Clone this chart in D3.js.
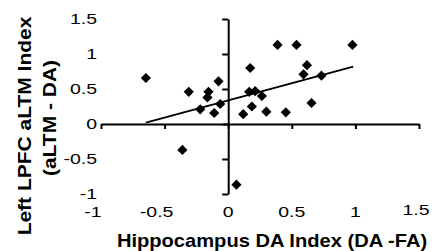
<!DOCTYPE html>
<html>
<head>
<meta charset="utf-8">
<script src="https://cdn.jsdelivr.net/npm/d3@7"></script>
<style>
  body { margin: 0; background: #fff; }
  svg text { font-family: "Liberation Sans", Arial, sans-serif; fill: #000; }
</style>
</head>
<body>
<div id="chart"></div>
<script>
// hippocampus DA index (x) vs left LPFC aLTM index (y)
var xVals = [-0.647, -0.36, -0.31, -0.22, -0.163, -0.155, -0.11, -0.076, -0.063, 0.065,
             0.118, 0.165, 0.173, 0.186, 0.212, 0.265, 0.30, 0.388, 0.453, 0.537,
             0.592, 0.619, 0.655, 0.733, 0.977];
var yVals = [0.657, -0.37, 0.46, 0.21, 0.38, 0.46, 0.157, 0.61, 0.286, -0.867,
             0.14, 0.46, 0.80, 0.25, 0.47, 0.40, 0.176, 1.13, 0.167, 1.13,
             0.71, 0.84, 0.30, 0.69, 1.13];
// fitted trend line endpoints
var trendX = [-0.647, 0.983];
var trendY = [0.02, 0.82];

var xTicks = [-1, -0.5, 0, 0.5, 1, 1.5];
var yTicks = [-1, -0.5, 0, 0.5, 1, 1.5];

var fullwidth = 433, fullheight = 251;

var svg = d3.select("#chart")
  .append("svg")
  .attr("width", fullwidth)
  .attr("height", fullheight);

var xScale = d3.scaleLinear().domain([-1, 1.5]).range([101, 419]);
var yScale = d3.scaleLinear().domain([-1, 1.5]).range([194, 19]);

// x axis line crossing at y = 0
svg.append("g")
  .attr("transform", "translate(0," + yScale(0) + ")")
  .call(d3.axisBottom(xScale).tickValues(xTicks).tickFormat("").tickSizeInner(5).tickSizeOuter(0))
  .call(function(g) {
    g.selectAll("path, line").attr("stroke", "#000").attr("stroke-width", 2);
  });

// y axis line crossing at x = 0
svg.append("g")
  .attr("transform", "translate(" + xScale(0) + ",0)")
  .call(d3.axisLeft(yScale).tickValues(yTicks).tickFormat("").tickSizeInner(6).tickSizeOuter(0))
  .call(function(g) {
    g.selectAll("path, line").attr("stroke", "#000").attr("stroke-width", 2);
  });

// tick labels sit at the low ends, not beside the crossing axes
svg.append("g").selectAll("text")
  .data(xTicks)
  .enter()
  .append("text")
  .attr("transform", function(d) {
    var dx = d < 0 ? -8 : (d == 1.5 ? -3 : 0);
    var y = d == 1.5 ? 215 : 217;
    return "translate(" + (xScale(d) + dx) + "," + y + ") scale(1.3,1)";
  })
  .attr("text-anchor", "middle")
  .style("font-size", "15px")
  .text(function(d) { return d; });

svg.append("g").selectAll("text")
  .data(yTicks)
  .enter()
  .append("text")
  .attr("transform", function(d) {
    return "translate(97," + yScale(d) + ") scale(1.3,1)";
  })
  .attr("text-anchor", "end")
  .attr("dy", "0.36em")
  .style("font-size", "15px")
  .text(function(d) { return d; });

// trend line
var line = d3.line()
  .x(function(d) { return xScale(d[0]); })
  .y(function(d) { return yScale(d[1]); });

svg.append("path")
  .datum(d3.zip(trendX, trendY))
  .attr("fill", "none")
  .attr("stroke", "#000")
  .attr("stroke-width", 2)
  .attr("d", line);

// diamonds
var diamond = d3.symbol().type(d3.symbolSquare).size(52);

svg.append("g").selectAll("path")
  .data(d3.zip(xVals, yVals))
  .enter()
  .append("path")
  .attr("d", diamond)
  .attr("transform", function(d) {
    return "translate(" + xScale(d[0]) + "," + yScale(d[1]) + ") rotate(45)";
  })
  .attr("fill", "#000");

// axis titles
svg.append("text")
  .attr("transform", "translate(272,247) scale(1.15,1)")
  .attr("text-anchor", "middle")
  .style("font-size", "17.5px")
  .style("font-weight", "bold")
  .text("Hippocampus DA Index (DA -FA)");

svg.append("text")
  .attr("transform", "translate(31,126) rotate(-90) scale(1.2,1)")
  .attr("text-anchor", "middle")
  .style("font-size", "17.5px")
  .style("font-weight", "bold")
  .text("Left LPFC aLTM Index");

svg.append("text")
  .attr("transform", "translate(56,118) rotate(-90) scale(1.2,1)")
  .attr("text-anchor", "middle")
  .style("font-size", "17.5px")
  .style("font-weight", "bold")
  .text("(aLTM - DA)");
</script>
</body>
</html>
